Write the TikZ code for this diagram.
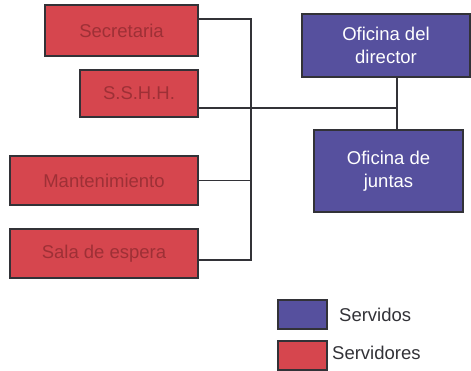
\documentclass[tikz,border=0pt]{standalone}
\usepackage{fontspec}
\setmainfont{Liberation Sans}
\usepackage{tikz}

\definecolor{rojo}{RGB}{214,70,78}
\definecolor{rojotxt}{RGB}{158,48,54}
\definecolor{azul}{RGB}{86,80,158}
\definecolor{borde}{RGB}{50,50,55}

\begin{document}
\begin{tikzpicture}[x=1pt, y=-1pt,
    servidor/.style={draw=borde, line width=1.4pt, fill=rojo, text=rojotxt, inner sep=0pt},
    servido/.style={draw=borde, line width=1.4pt, fill=azul, text=white, inner sep=0pt, align=center},
    enlace/.style={draw=borde, line width=1.4pt},
    leyenda/.style={text=borde, inner sep=0pt, anchor=west},
    font=\fontsize{18.5}{23}\selectfont]
\useasboundingbox (0,0) rectangle (471,370);

\node[servidor, minimum width=153pt, minimum height=51pt] (sec) at (121.5,30.5) {Secretaria};
\node[servidor, minimum width=118pt, minimum height=47pt] (sshh) at (139,93.5) {S.S.H.H.};
\node[servidor, minimum width=188pt, minimum height=49pt] (mant) at (104,180.5) {Mantenimiento};
\node[servidor, minimum width=188pt, minimum height=49pt] (sala) at (104,253.5) {Sala de espera};

\node[servido, minimum width=168pt, minimum height=63pt] (dir) at (386,45.5) {Oficina del\\director};
\node[servido, minimum width=149pt, minimum height=82pt] (jun) at (388.5,171) {Oficina de\\juntas};

\coordinate (ttop) at (251,19);
\coordinate (tbot) at (251,260);
\coordinate (cruce) at (397,108);

\draw[enlace] (sec.east |- ttop) -- (ttop) -- (tbot) -- (sala.east |- tbot);
\draw[enlace] (mant.east) -- (mant.east -| ttop);
\draw[enlace] (sshh.east |- cruce) -- (cruce);
\draw[enlace] (dir.south -| cruce) -- (jun.north -| cruce);

% leyenda
\node[servido, minimum width=49pt, minimum height=29pt] (ley1) at (302.5,314.5) {};
\node[servidor, minimum width=49pt, minimum height=29pt] (ley2) at (302.5,355.5) {};
\node[leyenda] (txt1) at (339,315) {Servidos};
\node[leyenda] (txt2) at (332,353) {Servidores};

\end{tikzpicture}
\end{document}
